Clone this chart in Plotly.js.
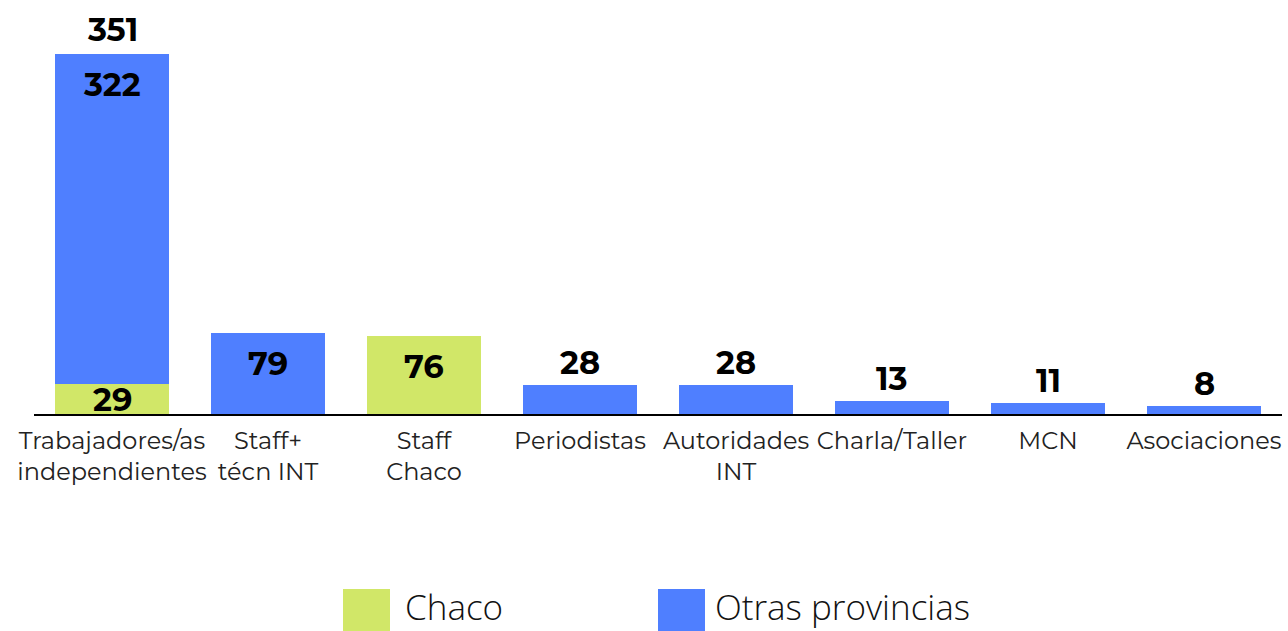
<!DOCTYPE html>
<html>
<head>
<meta charset="utf-8">
<script src="https://cdn.plot.ly/plotly-3.0.1.min.js"></script>
<style>html,body{margin:0;padding:0;background:#fff;}#chart{width:1288px;height:631px;}</style>
</head>
<body>
<div id="chart"></div>
<script>
const categories = ["Trabajadores/as<br>independientes", "Staff+<br>técn INT", "Staff<br>Chaco", "Periodistas", "Autoridades<br>INT", "Charla/Taller", "MCN", "Asociaciones"];
const chaco = [29, null, 76, null, null, null, null, null];
const otras = [322, 79, null, 28, 28, 13, 11, 8];
const seriesNames = ["Chaco", "Otras provincias"];
const colors = ["#d1e768", "#4f7fff"];

const W = 1288, H = 631;
const M = {l: 34, r: 6, t: 20, b: 217};
const pw = W - M.l - M.r, ph = H - M.t - M.b;
const px = x => (x - M.l) / pw;
const py = y => (H - M.b - y) / ph;

const FAM = "Montserrat, 'DejaVu Sans', sans-serif";
const numFont = {family: FAM, size: 32, color: "#000", weight: 700};

const traces = [
  {type: "bar", name: seriesNames[0], x: categories, y: chaco,
   marker: {color: colors[0]}, hoverinfo: "skip"},
  {type: "bar", name: seriesNames[1], x: categories, y: otras,
   marker: {color: colors[1]}, hoverinfo: "skip"}
];

// value labels, placed from the data
const annotations = [];
const series = [chaco, otras];
categories.forEach((c, i) => {
  let base = 0;
  const parts = [];
  series.forEach(s => { if (s[i] !== null) { parts.push({v: s[i], base: base}); base += s[i]; } });
  parts.forEach((p, k) => {
    const isTop = k === parts.length - 1;
    if (!isTop) {
      annotations.push({x: c, y: p.base + p.v / 2, xref: "x", yref: "y", text: String(p.v),
        showarrow: false, yanchor: "middle", font: numFont});
    } else if (p.v >= 60) {
      annotations.push({x: c, y: p.base + p.v, xref: "x", yref: "y", text: String(p.v),
        showarrow: false, yanchor: "top", yshift: -9, font: numFont});
    } else {
      annotations.push({x: c, y: p.base + p.v, xref: "x", yref: "y", text: String(p.v),
        showarrow: false, yanchor: "bottom", yshift: 1, font: numFont});
    }
  });
  if (parts.length > 1) {
    annotations.push({x: c, y: base, xref: "x", yref: "y", text: String(base),
      showarrow: false, yanchor: "bottom", yshift: 3, font: numFont});
  }
});

// legend drawn with shapes + annotations
const legendItems = [
  {x0: 343, tx: 404, label: seriesNames[0], color: colors[0]},
  {x0: 658, tx: 714, label: seriesNames[1], color: colors[1]}
];
const shapes = [];
legendItems.forEach(it => {
  shapes.push({type: "rect", xref: "paper", yref: "paper",
    x0: px(it.x0), x1: px(it.x0 + 47), y0: py(631), y1: py(589),
    fillcolor: it.color, line: {width: 0}});
  annotations.push({xref: "paper", yref: "paper", x: px(it.tx), y: py(631),
    xanchor: "left", yanchor: "bottom", showarrow: false, text: it.label, borderpad: 0,
    font: {family: "'Open Sans', 'Noto Sans', sans-serif", size: 35, color: "#111", weight: 300}});
});

const layout = {
  width: W, height: H,
  margin: M,
  paper_bgcolor: "#fff", plot_bgcolor: "#fff",
  barmode: "stack", bargap: 0.27,
  showlegend: false,
  font: {family: FAM},
  xaxis: {
    showline: true, linecolor: "#000", linewidth: 2,
    ticks: "", showgrid: false, zeroline: false,
    ticklabelstandoff: 4,
    tickfont: {family: FAM, size: 24, color: "#222"},
    fixedrange: true
  },
  yaxis: {
    range: [0, 384.2], visible: false, showgrid: false, zeroline: false, fixedrange: true
  },
  shapes: shapes,
  annotations: annotations
};

Plotly.newPlot("chart", traces, layout, {displayModeBar: false, staticPlot: true});
</script>
</body>
</html>
